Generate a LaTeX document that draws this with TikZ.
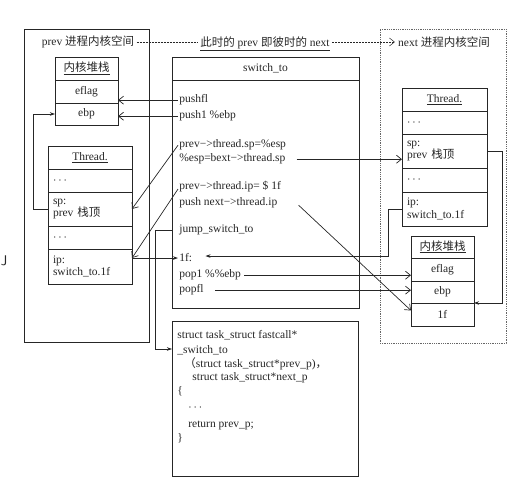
\documentclass[tikz,border=0pt]{standalone}
\usepackage{fontspec}
\setmainfont{Liberation Serif}
\newfontfamily\cjk{Noto Sans CJK SC}
\usetikzlibrary{arrows.meta,calc}
\newcommand\ulx[1]{\leavevmode\vtop{\hbox{#1}\kern1.2pt\hrule height 0.9pt}}
\begin{document}
\begin{tikzpicture}[x=1pt,y=-1pt,
  font=\fontsize{11.5}{12.5}\selectfont,
  line width=0.7pt, every path/.style={color=black!85},
  box/.style={draw, inner sep=0pt, outer sep=0pt},
  lcell/.style={box, text width=74pt, inner xsep=5pt, align=left},
  code/.style={anchor=base west, inner sep=1pt},
  oarr/.style={-{Straight Barb[length=5pt,width=8pt]}},
  farr/.style={-{Stealth[length=5pt,width=3.5pt]}},
  dashline/.style={dash pattern=on 2pt off 1pt, line width=0.5pt},
  dotbox/.style={draw, dash pattern=on 0.8pt off 1pt, line width=0.6pt, black!60}]
\useasboundingbox (0,0) rectangle (523,500);

% outer spaces
\node[box, minimum width=125pt, minimum height=313pt] (prevspace) at (86.5,185.5) {};
\node[dotbox, minimum width=126pt, minimum height=314pt, inner sep=0pt] (nextspace) at (443,186) {};

% titles
\node[inner sep=2pt] (prevtitle) at (88,42) {prev {\cjk 进程内核空间}};
\node[inner sep=2pt] (midlabel) at (265,44) {\ulx{{\cjk 此时的} prev {\cjk 即彼时的} next}};
\node[inner sep=3pt] (nexttitle) at (444,42) {next {\cjk 进程内核空间}};
\draw[dashline] (prevtitle.east) -- (midlabel.west |- prevtitle.east);
\draw[dashline, oarr] (midlabel.east |- prevtitle.east) -- (nexttitle.west);

% left kernel stack
\node[box, minimum width=63pt, minimum height=23pt] (lksh) at (86.5,68.5) {\ulx{\cjk 内核堆栈}};
\node[box, minimum width=63pt, minimum height=23pt] (lkseflag) at (86.5,91.5) {eflag};
\node[box, minimum width=63pt, minimum height=22pt] (lksebp) at (86.5,114) {ebp};

% left thread
\node[box, minimum width=84pt, minimum height=23pt] (lthh) at (90,157.5) {\ulx{Thread.}};
\node[lcell, minimum height=23pt] (lthd1) at (90,180.5) {$\cdots$};
\node[lcell, minimum height=34pt] (lthsp) at (90,209) {sp:\\prev {\cjk 栈顶}};
\node[lcell, minimum height=23pt] (lthd2) at (90,237.5) {$\cdots$};
\node[lcell, minimum height=35pt] (lthip) at (90,266.5) {ip:\\switch\_to.1f};

% next thread
\node[box, minimum width=85pt, minimum height=23pt] (nthh) at (444.5,99.5) {\ulx{Thread.}};
\node[lcell, text width=75pt, minimum height=23pt] (nthd1) at (444.5,122.5) {$\cdots$};
\node[lcell, text width=75pt, minimum height=34pt] (nthsp) at (444.5,151) {sp:\\prev {\cjk 栈顶}};
\node[lcell, text width=75pt, minimum height=24pt] (nthd2) at (444.5,180) {$\cdots$};
\node[lcell, text width=75pt, minimum height=34pt] (nthip) at (444.5,209) {ip:\\switch\_to.1f};

% next kernel stack
\node[box, minimum width=63pt, minimum height=22pt] (nksh) at (442.5,247) {\ulx{\cjk 内核堆栈}};
\node[box, minimum width=63pt, minimum height=23pt] (nkseflag) at (442.5,269.5) {eflag};
\node[box, minimum width=63pt, minimum height=22pt] (nksebp) at (442.5,292) {ebp};
\node[box, minimum width=63pt, minimum height=23pt] (nks1f) at (442.5,314.5) {1f};

% switch_to box
\node[box, minimum width=187pt, minimum height=23pt] (swh) at (265.5,68.5) {switch\_to};
\node[box, minimum width=187pt, minimum height=228pt] (swb) at (265.5,194) {};
\node[code] (pushfl) at (178,103) {pushfl};
\node[code] (pushebp) at (178,119) {push1 \%ebp};
\node[code] (spset) at (178,148) {prev−>thread.sp=\%esp};
\node[code] (espset) at (178,162) {\%esp=bext−>thread.sp};
\node[code] (ipset) at (178,190) {prev−>thread.ip= \$ 1f};
\node[code] (pushnext) at (178,206) {push next−>thread.ip};
\node[code] (jump) at (178,233) {jump\_switch\_to};
\node[code] (lbl1f) at (178,262) {1f:};
\node[code] (popebp) at (178,278) {pop1 \%\%ebp};
\node[code] (popfl) at (178,293) {popfl};

% struct box
\node[box, minimum width=186pt, minimum height=155pt] (stb) at (265,398.5) {};
\node[code] (s1) at (176,338) {struct task\_struct fastcall*};
\node[code] (s2) at (176,353) {\_switch\_to};
\node[code] (s3) at (183,367) {{\cjk （}struct task\_struct*prev\_p){\cjk ，}};
\node[code] (s4) at (191,381) {struct task\_struct*next\_p};
\node[code] (s5) at (176,395) {\{};
\node[code] (s6) at (187,410) {$\cdots$};
\node[code] (s7) at (187,427) {return prev\_p;};
\node[code] (s8) at (176,441) {\}};

% edge fragment
\node[anchor=base west, inner sep=0pt, font=\sffamily\fontsize{14}{14}\selectfont] (edgej) at (0.5,266) {J};

% connectors
\draw[oarr] (pushfl.west) -- (pushfl.west -| lkseflag.east);
\draw[oarr] (pushebp.west) -- (pushebp.west -| lksebp.east);
\draw[oarr] (spset.west) -- (lthsp.east);
\draw[oarr] ([yshift=-2pt]ipset.west) -- (lthip.east |- lbl1f.west);
\draw[farr] (lthip.east |- lbl1f.west) -- (lbl1f.west);
\draw[farr] (lthsp.west) -- ++(-15,0) |- (lksebp.west);
\draw[oarr] ([xshift=10pt]espset.east) -- (espset.east -| nthsp.west);
\draw[oarr] ([xshift=20pt,yshift=-2pt]pushnext.east) -- ([yshift=4pt]nks1f.west);
\draw[farr] (swb.west |- jump.west) -- ++(-17,0) |- ([yshift=-28pt]stb.north west);
\draw[farr] (nthip.west) -- ++(-14,0) |- ([xshift=12pt,yshift=2pt]lbl1f.east);
\draw[oarr] ([xshift=2pt]popebp.east) -- (popebp.east -| nkseflag.west);
\draw[oarr] ([xshift=10pt]popfl.east) -- (popfl.east -| nksebp.west);
\draw[farr] (nthsp.east) -- ++(15,0) |- (nksebp.south east);
\end{tikzpicture}
\end{document}
